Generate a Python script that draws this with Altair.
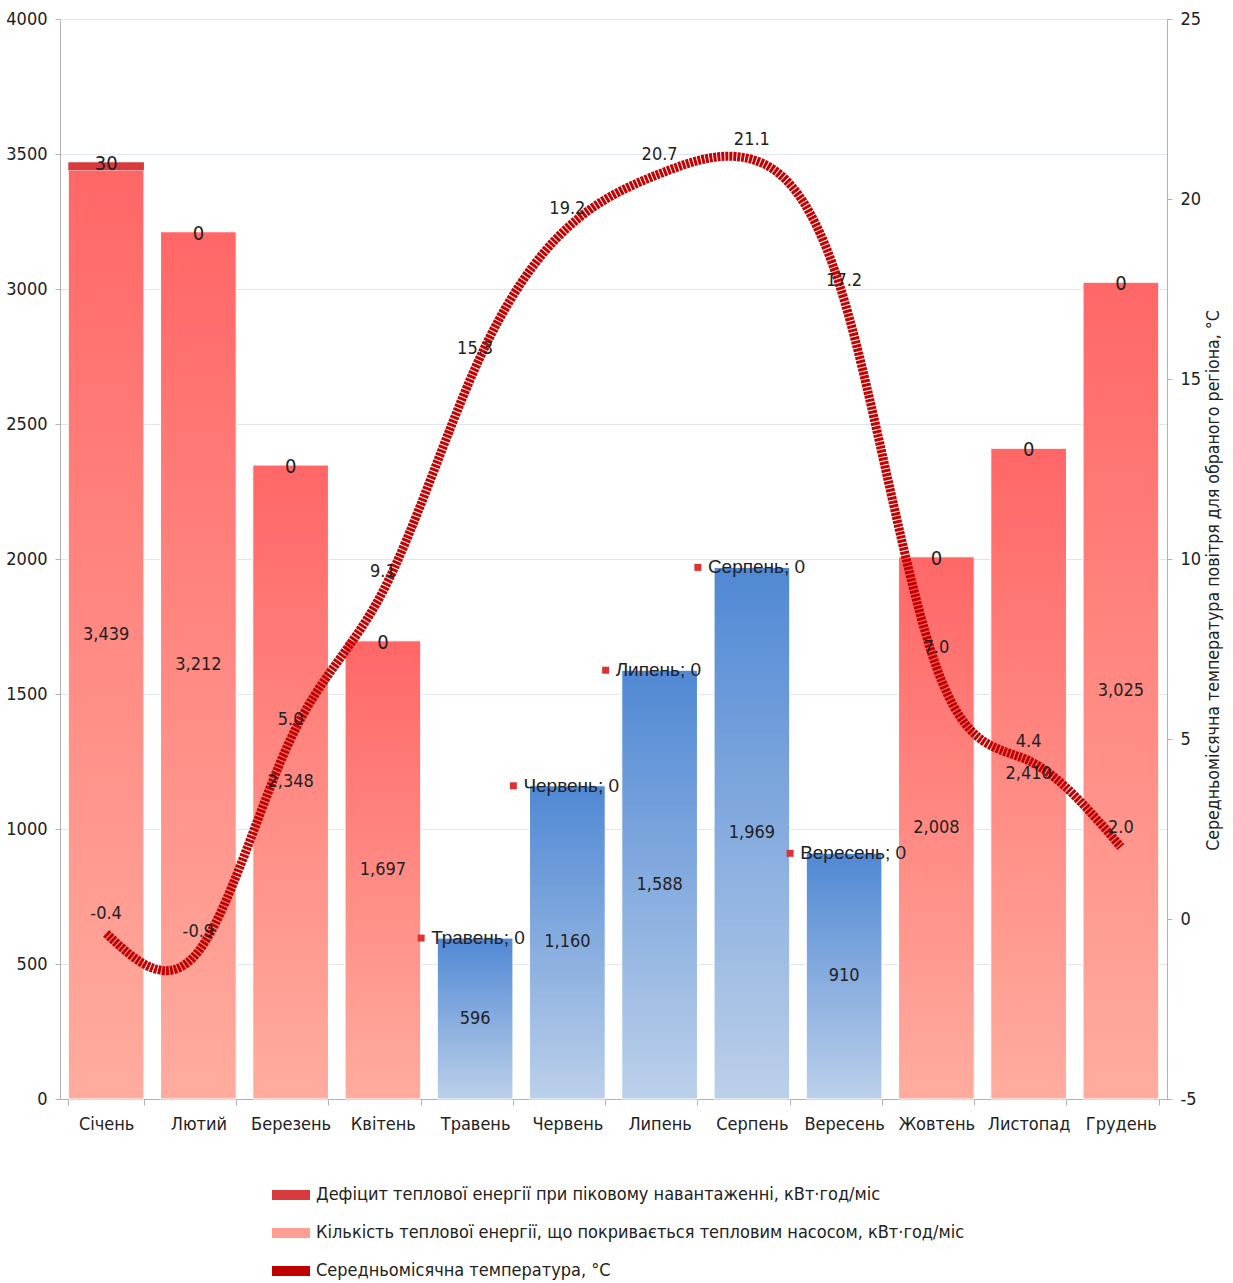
import altair as alt
import pandas as pd

months = ["Січень", "Лютий", "Березень", "Квітень", "Травень", "Червень",
          "Липень", "Серпень", "Вересень", "Жовтень", "Листопад", "Грудень"]
covered = [3439, 3212, 2348, 1697, 596, 1160, 1588, 1969, 910, 2008, 2410, 3025]
deficit = [30, 0, 0, 0, 0, 0, 0, 0, 0, 0, 0, 0]
temps = [-0.4, -0.9, 5.0, 9.1, 15.3, 19.2, 20.7, 21.1, 17.2, 7.0, 4.4, 2.0]
season = ["heat", "heat", "heat", "heat", "cool", "cool", "cool", "cool", "cool",
          "heat", "heat", "heat"]

legend_names = [
    "Дефіцит теплової енергії при піковому навантаженні, кВт·год/міс",
    "Кількість теплової енергії, що покривається тепловим насосом, кВт·год/міс",
    "Середньомісячна температура, °С",
]
legend_colors = ["#d93a3e", "#ff9e94", "#c00000"]
right_title = "Середньомісячна температура повітря для обраного регіона, °С"

df = pd.DataFrame({"month": months, "covered": covered, "deficit": deficit,
                   "temp": temps, "season": season})

FONT = "DejaVu Sans Condensed, Liberation Sans, sans-serif"
TXT = "#222222"
AXC = "#b3b3b3"

red_grad = alt.LinearGradient(gradient="linear", x1=0, y1=0, x2=0, y2=1,
                              stops=[alt.GradientStop(color="#ff6767", offset=0),
                                     alt.GradientStop(color="#ffac9f", offset=1)])
blue_grad = alt.LinearGradient(gradient="linear", x1=0, y1=0, x2=0, y2=1,
                               stops=[alt.GradientStop(color="#5088d4", offset=0),
                                      alt.GradientStop(color="#bcd0ea", offset=1)])

xenc = alt.X("month:N", sort=months,
             scale=alt.Scale(paddingInner=0.18, paddingOuter=0.09),
             axis=alt.Axis(title=None, labelAngle=0, tickBand="extent",
                           labelFont=FONT, labelFontSize=18, labelColor=TXT,
                           labelPadding=10, tickSize=6, tickColor=AXC,
                           domainColor=AXC, grid=False))

lscale = alt.Scale(domain=[0, 4000], nice=False)
rscale = alt.Scale(domain=[-5, 25], nice=False)

left_axis = alt.Axis(title=None, values=list(range(0, 4001, 500)), format="d",
                     labelFont=FONT, labelFontSize=18, labelColor=TXT,
                     labelPadding=8, tickSize=5, tickColor=AXC, domainColor=AXC,
                     grid=True, gridColor="#dfe6f1", gridWidth=1)
right_axis = alt.Axis(orient="right", values=list(range(-5, 26, 5)), format="d",
                      labelExpr="replace(datum.label, '\u2212', '-')",
                      title=right_title, titleAngle=270, titleFont=FONT,
                      titleFontSize=17.6, titleFontWeight="normal", titleColor=TXT,
                      titlePadding=22, titleY=561,
                      labelFont=FONT, labelFontSize=18, labelColor=TXT,
                      labelPadding=8, tickSize=5, tickColor=AXC, domainColor=AXC,
                      grid=False)

base = alt.Chart(df).transform_calculate(
    top="datum.covered + datum.deficit",
    mid="datum.covered / 2",
    clabel="datum.month + '; ' + datum.deficit",
    tlabel="replace(format(datum.temp, '.1f'), '\u2212', '-')",
)

heat_bars = base.transform_filter("datum.season == 'heat'").mark_bar(
    fill=red_grad, stroke="white", strokeWidth=1
).encode(x=xenc, y=alt.Y("covered:Q", scale=lscale, axis=left_axis))

cool_bars = base.transform_filter("datum.season == 'cool'").mark_bar(
    fill=blue_grad, stroke="white", strokeWidth=1
).encode(x=xenc, y=alt.Y("covered:Q", scale=lscale, axis=None))

def_bars = base.mark_bar(color="#d93a3e").encode(
    x=xenc, y=alt.Y("top:Q", scale=lscale, axis=None), y2="covered:Q")

line = base.mark_line(interpolate="natural", color="#c40000", strokeWidth=9,
                      strokeDash=[3, 1], strokeCap="butt").encode(
    x=xenc, y=alt.Y("temp:Q", scale=rscale, axis=right_axis))

mid_labels = base.mark_text(font=FONT, fontSize=18, color=TXT).encode(
    x=xenc, y=alt.Y("mid:Q", scale=lscale, axis=None),
    text=alt.Text("covered:Q", format=","))

top_labels = base.transform_filter("datum.season == 'heat'").mark_text(
    font=FONT, fontSize=20, color=TXT, dy=2).encode(
    x=xenc, y=alt.Y("top:Q", scale=lscale, axis=None), text="deficit:Q")

cool_marks = base.transform_filter("datum.season == 'cool'").mark_square(
    size=49, color="#dd3333", opacity=1, xOffset=-54).encode(
    x=xenc, y=alt.Y("top:Q", scale=lscale, axis=None))

cool_labels = base.transform_filter("datum.season == 'cool'").mark_text(
    font="Liberation Sans", fontSize=19, color=TXT, align="left", dx=-44).encode(
    x=xenc, y=alt.Y("top:Q", scale=lscale, axis=None), text="clabel:N")

temp_labels = base.mark_text(font=FONT, fontSize=18, color=TXT, dy=-19).encode(
    x=xenc, y=alt.Y("temp:Q", scale=rscale, axis=None), text="tlabel:N")

legend_layer = alt.Chart(pd.DataFrame({"series": legend_names})).mark_square(
    opacity=0).encode(
    color=alt.Color("series:N", sort=legend_names,
                    scale=alt.Scale(domain=legend_names, range=legend_colors),
                    legend=alt.Legend(
                        title=None, orient="none", legendX=212, legendY=1157,
                        direction="vertical",
                        symbolType="M-1,-0.26H1V0.26H-1Z", symbolSize=1444,
                        symbolOpacity=1, symbolStrokeWidth=0,
                        labelFont=FONT, labelFontSize=18, labelColor=TXT,
                        labelLimit=0, labelOffset=6, rowPadding=10, padding=0)))

chart = alt.layer(
    heat_bars, cool_bars, def_bars, line, mid_labels, top_labels,
    cool_marks, cool_labels, temp_labels, legend_layer
).resolve_scale(y="independent").properties(
    width=1107, height=1080,
    autosize=alt.AutoSizeParams(type="none"),
    padding={"left": 60, "top": 19, "right": 66, "bottom": 184},
).configure_view(stroke=None).configure(background="white")

chart.save("out.html", embed_options={"renderer": "svg", "actions": False})
